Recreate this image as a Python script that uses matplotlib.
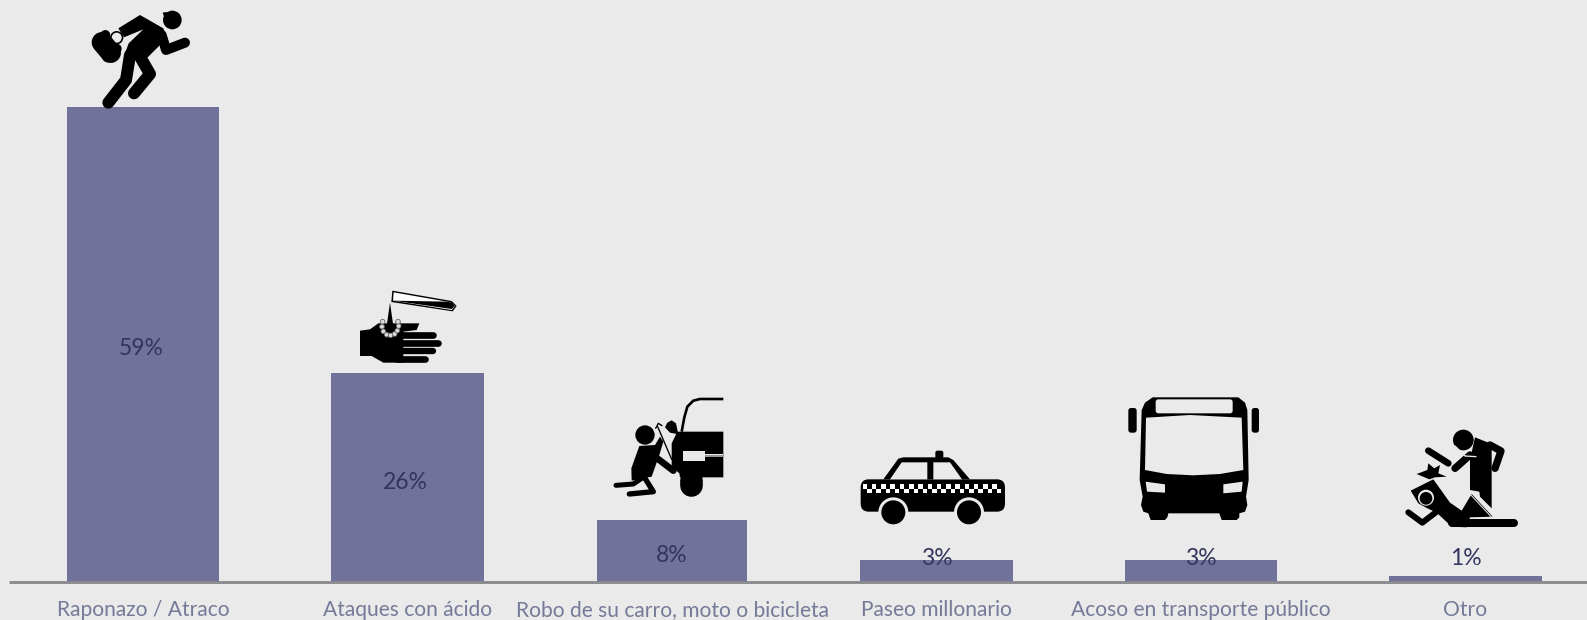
import matplotlib
matplotlib.use('Agg')
import matplotlib.pyplot as plt
from matplotlib.patches import Circle, Polygon, Rectangle, FancyBboxPatch

# the data
categories = ['Raponazo / Atraco', 'Ataques con ácido', 'Robo de su carro, moto o bicicleta',
              'Paseo millonario', 'Acoso en transporte público', 'Otro']
heights = [59, 25.9, 7.67, 2.7, 2.7, 0.71]
value_labels = ['59%', '26%', '8%', '3%', '3%', '1%']

# colours
bg = '#eaeaea'
bar_col = '#70729a'
line_col = '#8b8b90'
label_col = '#757a98'
value_col = '#33355e'

plt.rcParams['font.family'] = ['Lato', 'DejaVu Sans']

fig = plt.figure(figsize=(15.87, 6.2), dpi=100, facecolor=bg)

# chart axes, bars sit on the baseline at y=0
ax = fig.add_axes([0, 0, 1, 1], facecolor='none')
ax.set_xlim(-143 / 264.5, (1587 - 143) / 264.5)
ax.set_ylim(-(620 - 581.7) / 8.05, 581.7 / 8.05)
ax.axis('off')

xpos = list(range(len(categories)))
widths = [0.575, 0.575, 0.565, 0.575, 0.575, 0.575]
ax.bar(xpos, heights, width=widths, color=bar_col, zorder=2)
ax.plot([-0.505, 5.53], [0, 0], color=line_col, lw=2.1, solid_capstyle='butt', zorder=3)

nudge = [-2, -2, 0, 0, 0, 0]
for i in xpos:
    ax.annotate(value_labels[i], (i, max(heights[i] / 2, 3.45)), xytext=(nudge[i] * 0.72, -3.4),
                textcoords='offset points', ha='center', va='center',
                fontsize=16.5, color=value_col, zorder=6)
    ax.annotate(categories[i], (i, 0), xytext=(0, -20.5), textcoords='offset points',
                ha='center', va='center', fontsize=15.1, color=label_col)

# second axes in pixels, only for the pictograms
ic = fig.add_axes([0, 0, 1, 1], facecolor='none')
ic.set_xlim(0, 1587)
ic.set_ylim(620, 0)
ic.axis('off')


def conv(pts, ox, oy):
    return [(x / 3 + ox, y / 3 + oy) for x, y in pts]


def poly(pts, ox, oy, col='black', **kw):
    ic.add_patch(Polygon(conv(pts, ox, oy), closed=True, fc=col, ec='none', **kw))


def stroke(pts, w, ox, oy, col='black', cap='round'):
    p = conv(pts, ox, oy)
    ic.plot([a[0] for a in p], [a[1] for a in p], color=col, lw=w / 3 * 0.72,
            solid_capstyle=cap, solid_joinstyle='round')


def dot(x, y, r, ox, oy, col='black', **kw):
    ic.add_patch(Circle((x / 3 + ox, y / 3 + oy), r / 3, fc=col, **kw))


def rrect(x0, y0, x1, y1, r, ox, oy, col='black'):
    ic.add_patch(FancyBboxPatch((x0 / 3 + ox + r / 3, y0 / 3 + oy + r / 3),
                                (x1 - x0 - 2 * r) / 3, (y1 - y0 - 2 * r) / 3,
                                boxstyle='round,pad=%f' % (r / 3), fc=col, ec='none'))


# runner with bag
o = (50, 0)
dot(367, 60, 28, *o, ec='none')
poly([(338, 38), (350, 36), (352, 50), (342, 50)], *o)
poly([(205, 85), (270, 45), (340, 85), (358, 130), (330, 135), (290, 175), (225, 160),
      (236, 130), (280, 88), (222, 112)], *o)
stroke([(335, 105), (348, 150), (405, 128)], 30, *o)
stroke([(240, 165), (228, 240), (175, 308)], 36, *o)
stroke([(270, 170), (300, 222), (252, 280)], 36, *o)
# bag is one fat stroke so the corners come out round
stroke([(156, 127), (182, 158)], 62, *o)
stroke([(142, 128), (166, 105)], 30, *o)
stroke([(172, 172), (200, 146)], 30, *o)
dot(200, 113, 20, *o, ec='none')
dot(200, 113, 15, *o, col=bg, ec='none')

# hand and acid tube
poly([(930, 992), (960, 988), (985, 970), (1108, 970), (1100, 990), (1060, 995), (1060, 1088),
      (1000, 1088), (965, 1068), (930, 1068)], *o)
stroke([(1050, 1006), (1150, 1006)], 20, *o)
stroke([(1050, 1030), (1165, 1030)], 20, *o)
stroke([(1050, 1054), (1150, 1054)], 19, *o)
stroke([(1040, 1078), (1125, 1078)], 20, *o)
poly([(1027, 872), (1205, 903), (1220, 918), (1208, 934), (1024, 906)], *o)
poly([(1031, 877), (1203, 907), (1216, 918), (1205, 930), (1029, 902)], *o, col='white')
poly([(1029, 902), (1190, 905), (1207, 908), (1215, 918), (1205, 927)], *o)
for x, y in [(998, 965), (996, 980), (1000, 994), (1010, 1004), (1022, 1006), (1034, 1002),
             (1042, 992), (1046, 978), (1044, 965)]:
    dot(x, y, 7, *o, col='#dddddd', ec='#666666', lw=0.6)
poly([(1020, 908), (1009, 985), (1031, 985)], *o)

# thief at the car
o = (590, 380)
poly([(262, 155), (400, 155), (400, 292), (335, 292), (270, 292), (268, 280), (245, 260),
      (245, 190)], *o)
stroke([(303, 300), (303, 315)], 68, *o)
ic.add_patch(Rectangle((590 + 280 / 3, 380 + 213 / 3), 65 / 3, 30 / 3, fc=bg, ec='none'))
ic.add_patch(Rectangle((590 + 345 / 3, 380 + 226 / 3), 55 / 3, 5 / 3, fc='#999999', ec='none'))
ic.add_patch(Rectangle((590 + 345 / 3, 380 + 222 / 3), 55 / 3, 3 / 3, fc=bg, ec='none'))
stroke([(275, 155), (283, 112), (292, 80), (310, 62), (330, 57), (400, 57)], 8, *o, cap='butt')
poly([(225, 142), (232, 128), (245, 121), (258, 130), (265, 163), (240, 158)], *o)
dot(165, 165, 29, *o, ec='none')
poly([(148, 198), (195, 195), (210, 170), (220, 185), (208, 225), (185, 290), (125, 302),
      (124, 265)], *o)
stroke([(195, 230), (250, 272)], 20, *o)
stroke([(155, 295), (130, 312), (78, 316)], 15, *o)
stroke([(165, 295), (190, 335), (118, 342)], 16, *o)
stroke([(197, 145), (205, 130), (216, 137)], 4, *o)
stroke([(203, 140), (245, 238)], 4, *o)

# taxi
rrect(812, 298, 1245, 395, 24, *o)
poly([(880, 298), (925, 236), (940, 232), (1075, 232), (1090, 240), (1140, 298)], *o)
poly([(900, 298), (935, 247), (1012, 247), (1012, 298)], *o, col=bg)
poly([(1030, 247), (1080, 247), (1116, 298), (1030, 298)], *o, col=bg)
rrect(1036, 212, 1060, 236, 6, *o)
for col in range(15):
    x = 818 + col * 27.8
    ic.add_patch(Rectangle((590 + x / 3, 380 + 313 / 3), 13.5 / 3, 13 / 3, fc='white', ec='none'))
    ic.add_patch(Rectangle((590 + (x + 13.5) / 3, 380 + 327 / 3), 13.5 / 3, 13 / 3, fc='white', ec='none'))
for wx in [910, 1137]:
    dot(wx, 397, 45, *o, col=bg, ec='none')
    dot(wx, 397, 36, *o, ec='none')

# bus
o = (1090, 380)
poly([(155, 90), (165, 68), (188, 52), (445, 52), (465, 68), (472, 90), (476, 300), (468, 350),
      (472, 375), (465, 395), (448, 400), (448, 412), (440, 420), (395, 420), (388, 400), (235, 400),
      (232, 412), (225, 420), (182, 420), (175, 400), (160, 395), (153, 375), (158, 350), (149, 300)], *o)
poly([(168, 113), (300, 105), (455, 113), (460, 270), (390, 282), (310, 286), (230, 282), (165, 270)], *o, col=bg)
rrect(197, 58, 428, 100, 8, *o, col=bg)
rrect(115, 84, 140, 158, 8, *o)
rrect(485, 84, 507, 158, 8, *o)
poly([(167, 305), (225, 313), (225, 338), (171, 335)], *o, col=bg)
poly([(400, 313), (458, 305), (455, 335), (400, 340)], *o, col=bg)

# attacker and victim
dot(1120, 180, 31, *o, ec='none')
poly([(1155, 172), (1205, 192), (1205, 385), (1170, 350), (1168, 335), (1140, 330), (1140, 240)], *o)
stroke([(1200, 195), (1233, 213), (1215, 265)], 22, *o)
stroke([(1140, 225), (1095, 265)], 22, *o)
stroke([(1015, 212), (1075, 250)], 20, *o)
stroke([(1095, 198), (1125, 228), (1158, 230)], 4, *o, col=bg)
poly([(980, 282), (1012, 270), (1015, 250), (1033, 265), (1050, 255), (1045, 280), (1070, 290),
      (1035, 292), (1018, 298)], *o)
poly([(962, 332), (1030, 298), (1080, 368), (1115, 392), (1145, 342), (1208, 410), (1140, 412),
      (1130, 442), (1085, 440), (1040, 398), (1012, 385), (985, 370)], *o)
dot(1008, 353, 24, *o, col=bg, ec='none')
dot(1008, 355, 19, *o, ec='none')
stroke([(1040, 395), (997, 428), (955, 397)], 18, *o)
stroke([(1085, 430), (1273, 430)], 24, *o)
stroke([(1138, 340), (1205, 412)], 3, *o, col=bg)

fig.savefig('out.png', dpi=100, facecolor=bg)
